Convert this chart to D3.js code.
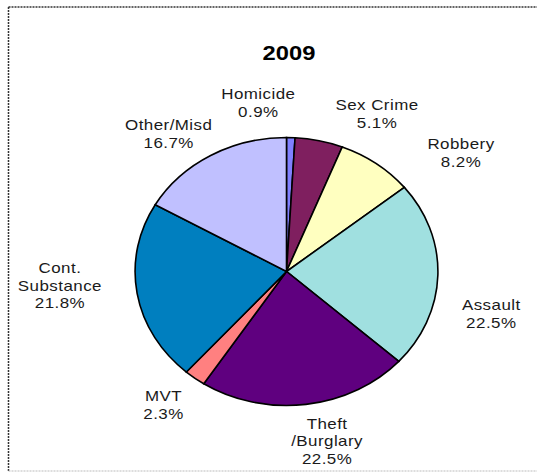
<!DOCTYPE html>
<html lang="en">
<head>
    <meta charset="UTF-8">
    <title>2009 pie</title>
    <style>
        body { margin: 0; background: #fff; }
        .slice path {
          stroke: #000;
          stroke-width: 1.6px;
          vector-effect: non-scaling-stroke;
        }
        .label text {
          font-family: "Liberation Sans", Arial, sans-serif;
          font-size: 15px;
          letter-spacing: 0.4px;
          fill: #1a1a1a;
        }
        .title {
          font-family: "Liberation Sans", Arial, sans-serif;
          font-size: 21px;
          font-weight: bold;
        }
    </style>
</head>
<body>
    <svg width="537" height="472"></svg>
    <script src="https://d3js.org/d3.v7.min.js"></script>
    <script>
        // data
        const categories = ["Homicide", "Sex Crime", "Robbery", "Assault", "Theft\n/Burglary", "MVT", "Cont.\nSubstance", "Other/Misd"];
        const shares = [0.9, 5.1, 8.2, 22.5, 22.5, 2.3, 21.8, 16.7];
        const colors = ["#8080ff", "#7f1f5f", "#ffffc0", "#a0e0e0", "#5f007f", "#ff8080", "#007fbf", "#c0c0ff"];
        const title = "2009";

        // label placement tweaks (degrees off slice middle, distance from centre)
        const labelTurn = [-10, 14.5, 16, 11.4, -4.6, 2, 5.4, -7];
        const labelDist = [171, 177, 195, 186, 173, 172, 201, 173];

        const svg = d3.select("svg"),
              width = +svg.attr("width"),
              height = +svg.attr("height");

        // frame
        svg.append("line").attr("x1", 8.5).attr("y1", 7).attr("x2", 8.5).attr("y2", 472)
            .attr("stroke", "#333").attr("stroke-width", 1.5).attr("stroke-dasharray", "2,1");
        svg.append("line").attr("x1", 8.5).attr("y1", 7).attr("x2", 537).attr("y2", 7)
            .attr("stroke", "#333").attr("stroke-width", 1.5).attr("stroke-dasharray", "2,1");
        svg.append("line").attr("x1", 8.5).attr("y1", 471).attr("x2", 537).attr("y2", 471)
            .attr("stroke", "#bbb").attr("stroke-width", 1).attr("stroke-dasharray", "2,1");

        const cx = 286.5, cy = 271.5, r = 134, stretch = 1.13;

        svg.append("text")
            .attr("class", "title")
            .attr("text-anchor", "middle")
            .attr("transform", "translate(289,60) scale(" + stretch + ",1)")
            .text(title);

        const g = svg.append("g")
            .attr("transform", "translate(" + cx + "," + cy + ") scale(" + stretch + ",1)");

        const pie = d3.pie().sort(null).value(d => d)(shares);
        const arc = d3.arc().innerRadius(0).outerRadius(r);

        g.append("g").attr("class", "slice")
            .selectAll("path")
            .data(pie)
            .enter().append("path")
            .attr("d", arc)
            .attr("fill", (d, i) => colors[i]);

        const lineH = 17.5;
        const labels = g.append("g").attr("class", "label")
            .selectAll("text")
            .data(pie)
            .enter().append("text")
            .attr("text-anchor", "middle")
            .attr("transform", function(d, i) {
                const a = (d.startAngle + d.endAngle) / 2 + labelTurn[i] * Math.PI / 180;
                const x = Math.sin(a) * labelDist[i], y = -Math.cos(a) * labelDist[i];
                return "translate(" + x + "," + y + ")";
            });

        labels.each(function(d, i) {
            const lines = categories[i].split("\n").concat([shares[i].toFixed(1) + "%"]);
            const t = d3.select(this);
            const top = -(lines.length - 1) * lineH / 2 + 5.5;
            lines.forEach(function(s, k) {
                t.append("tspan").attr("x", 0).attr("y", top + k * lineH).text(s);
            });
        });
    </script>
</body>
</html>
